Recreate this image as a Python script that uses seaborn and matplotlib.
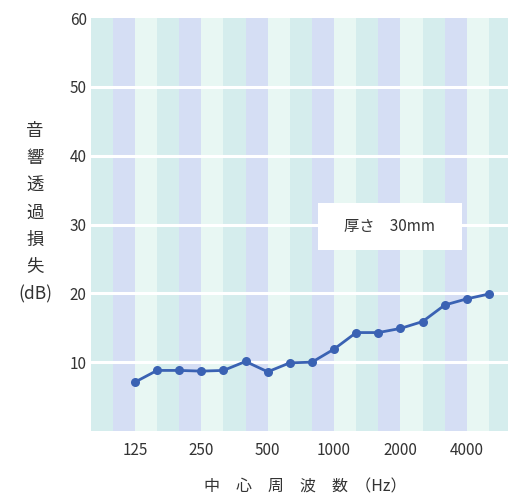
import matplotlib
matplotlib.use("Agg")
import matplotlib.pyplot as plt
from matplotlib.patches import Rectangle
import seaborn as sns
import numpy as np
import pandas as pd

# 1/3 octave centre frequencies and sound transmission loss (dB), 30mm thick
freqs = [125, 160, 200, 250, 315, 400, 500, 630, 800, 1000,
         1250, 1600, 2000, 2500, 3150, 4000, 5000]
loss = [7.1, 8.8, 8.8, 8.7, 8.8, 10.1, 8.6, 9.9, 10.0, 11.9,
        14.3, 14.3, 14.9, 15.9, 18.3, 19.2, 19.9]
tick_freqs = [125, 250, 500, 1000, 2000, 4000]
y_ticks = [10, 20, 30, 40, 50, 60]

df = pd.DataFrame({"pos": np.arange(len(freqs)), "freq": freqs, "loss": loss})

sns.set_style("white")
plt.rcParams['font.family'] = ['Noto Sans CJK JP', 'DejaVu Sans']

fig = plt.figure(figsize=(5.08, 4.95), dpi=100)
ax = fig.add_axes([0.179, 0.1293, 0.821, 0.8343])

# striped background, one band per 1/3 octave step
band_colors = ['#d5eded', '#d5def4', '#e8f7f3']
for k in range(-2, len(freqs)):
    ax.axvspan(k, k + 1, color=band_colors[(k + 2) % 3], lw=0, zorder=0)

for yv in y_ticks[:-1]:
    ax.axhline(yv, color='white', lw=2.2, zorder=1)

sns.lineplot(data=df, x="pos", y="loss", ax=ax, color='#3a62b3', lw=2,
             marker='o', markersize=6.5, markeredgewidth=0, zorder=3)

ax.set_xlim(-1.99, 16.86)
ax.set_ylim(0, 60)
ax.set_xticks([freqs.index(f) for f in tick_freqs])
ax.set_xticklabels([str(f) for f in tick_freqs])
ax.set_yticks(y_ticks)
ax.tick_params(length=0, labelsize=11, colors='#333333')
ax.tick_params(axis='x', pad=8)
ax.tick_params(axis='y', pad=3)
for s in ax.spines.values():
    s.set_visible(False)
ax.set_xlabel("")
ax.set_ylabel("")

# label box
ax.add_patch(Rectangle((8.27, 26.3), 6.5, 6.8, fc='white', ec='none', zorder=4))
ax.text(11.5, 29.7, "厚さ　30mm", ha='center', va='center', fontsize=11,
        color='#333333', zorder=5)

fig.text(0.069, 0.57, "音\n響\n透\n過\n損\n失\n(dB)", ha='center', va='center',
         fontsize=12.5, color='#333333', linespacing=1.66)
fig.text(0.60, 0.0, "中　心　周　波　数  （Hz）", ha='center', va='bottom',
         fontsize=11.5, color='#333333')

fig.savefig("out.png", dpi=100)
